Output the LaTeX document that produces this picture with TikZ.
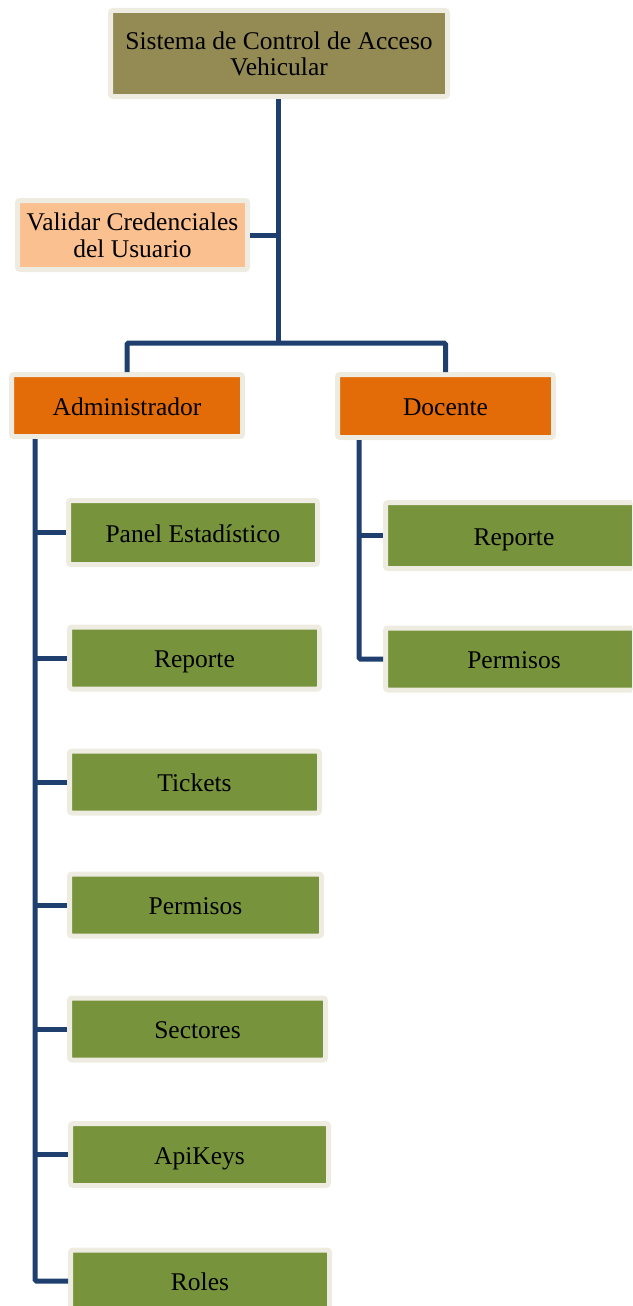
\documentclass[tikz,border=0pt]{standalone}
\usepackage{fontspec}
\setmainfont{Liberation Serif}
\definecolor{cOlive}{HTML}{948A54}
\definecolor{cPeach}{HTML}{FAC090}
\definecolor{cOrange}{HTML}{E36C09}
\definecolor{cGreen}{HTML}{77933C}
\definecolor{cFrame}{HTML}{EEECE1}
\definecolor{cLine}{HTML}{1F3F6E}
\begin{document}
\begin{tikzpicture}[x=1pt,y=-1pt,
  box/.style={draw=cFrame, line width=5pt, rounded corners=2.5pt, align=center,
    inner sep=0pt, text=black, font=\fontsize{25.5}{26}\selectfont},
  one/.style={box, text height=21.5pt, text depth=2.5pt},
  conn/.style={draw=cLine, line width=5pt, rounded corners=1.5pt}]
\useasboundingbox (0,0) rectangle (632,1306);
\clip (0,0) rectangle (632,1306);
% top
\node[box, fill=cOlive, minimum width=337pt, minimum height=86pt] (top) at (279,53.5)
  {Sistema de Control de Acceso\\Vehicular};
\node[box, fill=cPeach, minimum width=230pt, minimum height=69pt] (val) at (132.5,235)
  {Validar Credenciales\\[1pt]del Usuario};
\node[one, fill=cOrange, minimum width=231pt, minimum height=62pt] (admin) at (127,405.5)
  {Administrador};
\node[one, fill=cOrange, minimum width=216pt, minimum height=63pt] (doc) at (445.5,406)
  {Docente};
% admin children
\node[one, fill=cGreen, minimum width=249pt, minimum height=64pt] (a1) at (193,532.5) {Panel Estadístico};
\node[one, fill=cGreen, minimum width=250pt, minimum height=62pt] (a2) at (194.5,658) {Reporte};
\node[one, fill=cGreen, minimum width=250pt, minimum height=62pt] (a3) at (194.5,782) {Tickets};
\node[one, fill=cGreen, minimum width=252pt, minimum height=62pt] (a4) at (195.5,905) {Permisos};
\node[one, fill=cGreen, minimum width=256pt, minimum height=62pt] (a5) at (197.5,1029) {Sectores};
\node[one, fill=cGreen, minimum width=258pt, minimum height=62pt] (a6) at (199.5,1154.5) {ApiKeys};
\node[one, fill=cGreen, minimum width=259pt, minimum height=62pt] (a7) at (200,1281) {Roles};
% docente children
\node[one, fill=cGreen, minimum width=257pt, minimum height=66pt] (d1) at (514,535.5) {Reporte};
\node[one, fill=cGreen, minimum width=257pt, minimum height=62pt] (d2) at (514,659) {Permisos};
% connectors
\coordinate (j) at (278,343);
\draw[conn] (top.south -| j) -- (j);
\draw[conn] (val.east) -- (val.east -| j);
\draw[conn] (admin.north) |- (j) -| (doc.north);
\coordinate (at) at ([xshift=26pt]admin.south west);
\draw[conn] (at) |- (a7.west);
\foreach \n in {a1,a2,a3,a4,a5,a6} \draw[conn] (\n.west) -- (\n.west -| at);
\coordinate (dt) at ([xshift=24pt]doc.south west);
\draw[conn] (dt) |- (d2.west);
\draw[conn] (d1.west) -- (d1.west -| dt);
\end{tikzpicture}
\end{document}
